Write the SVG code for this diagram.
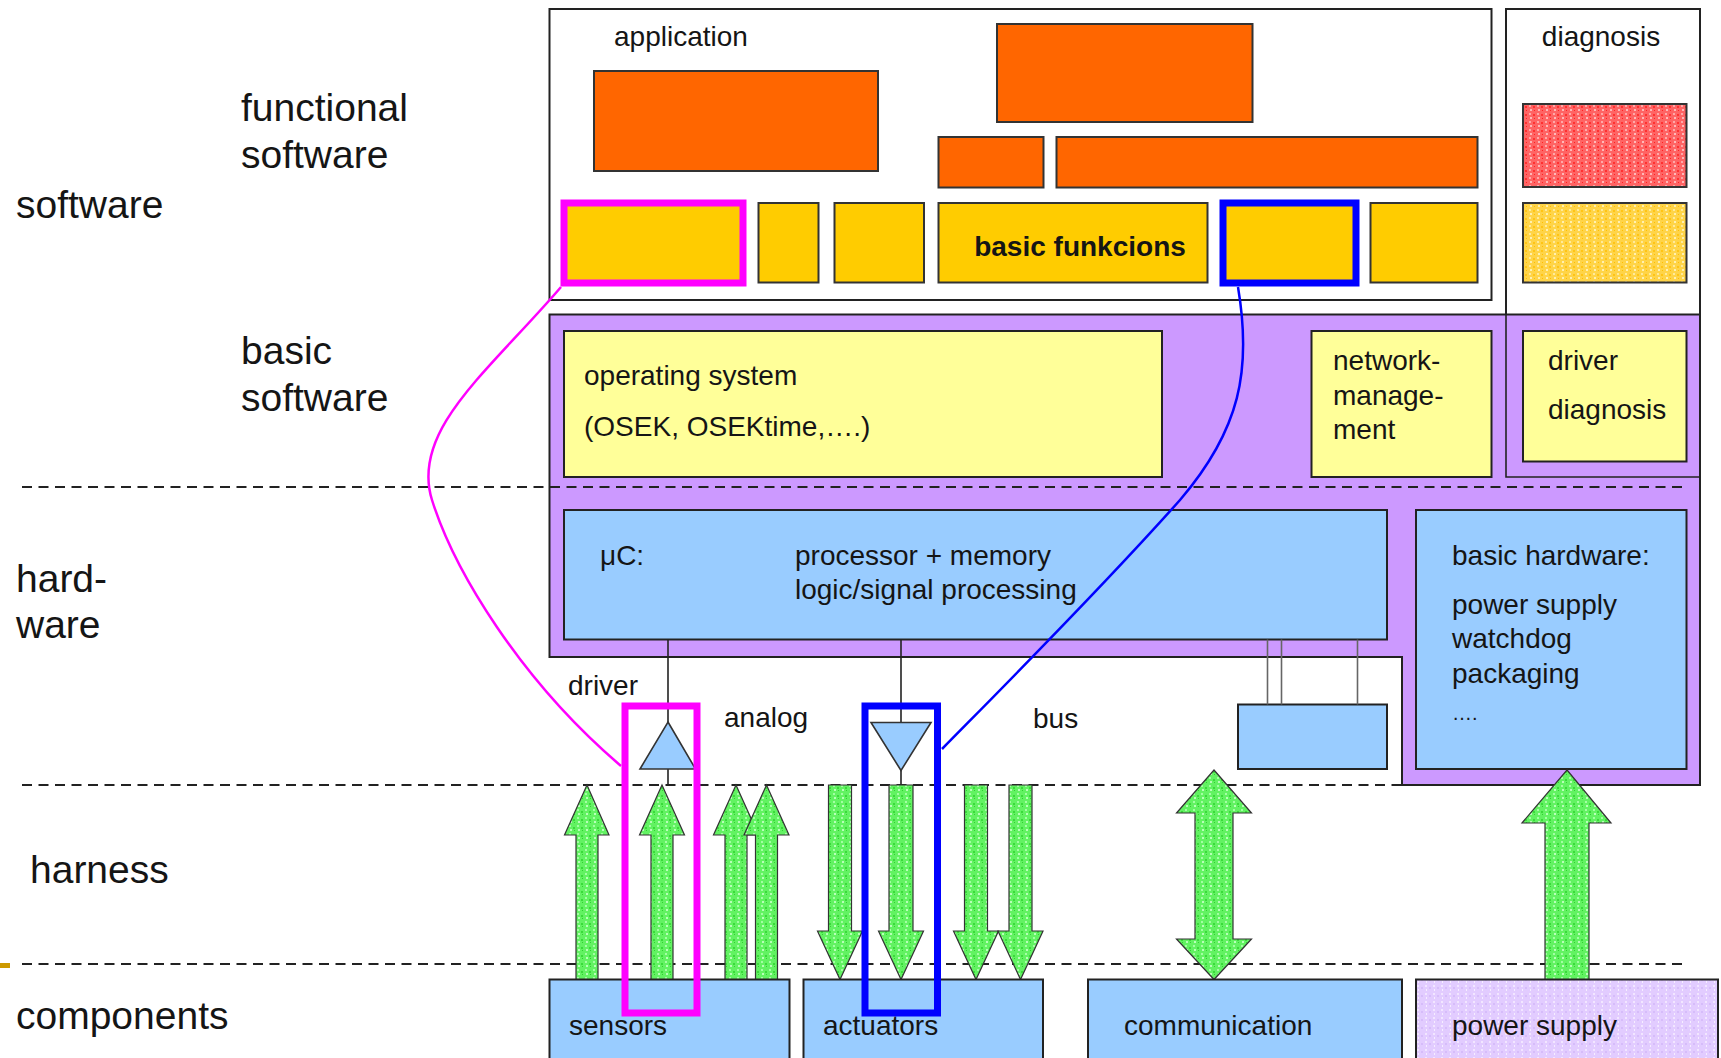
<svg xmlns="http://www.w3.org/2000/svg" width="1721" height="1058" viewBox="0 0 1721 1058">
<style>
text{font-family:"Liberation Sans",Arial,sans-serif;fill:#151515}
.big{font-size:39px}
.sm{font-size:28px}
.bx{stroke:#222;stroke-width:2}
.or{fill:#FF6600;stroke:#333;stroke-width:2}
.ye{fill:#FFCC00;stroke:#333;stroke-width:2}
.ly{fill:#FFFF99;stroke:#222;stroke-width:2}
.bl{fill:#99CCFF;stroke:#222;stroke-width:2}
.dash{stroke:#222;stroke-width:2;stroke-dasharray:10 6.5;fill:none}
.arr{fill:url(#pg);stroke:#333;stroke-width:1.2}
.hm{fill:none;stroke:#FF00FF;stroke-width:7}
.hb{fill:none;stroke:#0000FF;stroke-width:7}
.ln{stroke:#222;stroke-width:1.6;fill:none}
.gl{stroke:#666;stroke-width:1.6;fill:none}
</style>
<defs>
<pattern id="pg" width="8" height="8" patternUnits="userSpaceOnUse">
<rect width="8" height="8" fill="#62F262"/>
<rect x="1" y="1" width="2" height="2" fill="#A2FFA2"/>
<rect x="5" y="3" width="2" height="2" fill="#3ADA3A"/>
<rect x="2" y="5" width="2" height="2" fill="#B8FFB8"/>
<rect x="6" y="6" width="1" height="1" fill="#30D030"/>
</pattern>
<pattern id="pr" width="8" height="8" patternUnits="userSpaceOnUse">
<rect width="8" height="8" fill="#FF6464"/>
<rect x="1" y="1" width="2" height="2" fill="#FFA8A8"/>
<rect x="5" y="2" width="2" height="2" fill="#FF3030"/>
<rect x="2" y="5" width="2" height="2" fill="#FFB8B8"/>
<rect x="6" y="6" width="1" height="1" fill="#FF2020"/>
</pattern>
<pattern id="py" width="8" height="8" patternUnits="userSpaceOnUse">
<rect width="8" height="8" fill="#FFD448"/>
<rect x="1" y="1" width="2" height="2" fill="#FFEA9A"/>
<rect x="5" y="2" width="2" height="2" fill="#FFC414"/>
<rect x="2" y="5" width="2" height="2" fill="#FFF0B0"/>
<rect x="6" y="6" width="1" height="1" fill="#FFBE00"/>
</pattern>
<pattern id="pp" width="8" height="8" patternUnits="userSpaceOnUse">
<rect width="8" height="8" fill="#E2CCFF"/>
<rect x="1" y="1" width="2" height="2" fill="#F2E6FF"/>
<rect x="5" y="3" width="2" height="2" fill="#D6BCFA"/>
<rect x="2" y="5" width="1" height="2" fill="#F6EEFF"/>
</pattern>
</defs>
<rect width="1721" height="1058" fill="#FFFFFF"/>

<g id="layer-labels">
<text class="big" x="16" y="218">software</text>
<text class="big" x="241" y="121">functional</text>
<text class="big" x="241" y="168">software</text>
<text class="big" x="241" y="364">basic</text>
<text class="big" x="241" y="411">software</text>
<text class="big" x="16" y="592">hard-</text>
<text class="big" x="16" y="638">ware</text>
<text class="big" x="30" y="883">harness</text>
<text class="big" x="16" y="1029">components</text>
<rect x="0" y="963" width="10" height="5" fill="#CC9900"/>
</g>

<g id="application">
<rect class="bx" x="549.5" y="9" width="942" height="291" fill="#FFFFFF"/>
<text class="sm" x="614" y="46">application</text>
<rect class="or" x="594" y="71" width="284" height="100"/>
<rect class="or" x="997" y="24" width="255.5" height="98"/>
<rect class="or" x="938.5" y="137" width="105" height="50.5"/>
<rect class="or" x="1056.5" y="137" width="421" height="50.5"/>
<rect class="ye" x="564" y="203" width="179" height="80"/>
<rect class="ye" x="758.5" y="203" width="60" height="79.5"/>
<rect class="ye" x="834.5" y="203" width="89.5" height="79.5"/>
<rect class="ye" x="938.5" y="203" width="269" height="79.5"/>
<text x="1080" y="256" font-size="28" font-weight="bold" text-anchor="middle">basic funkcions</text>
<rect class="ye" x="1223" y="203" width="133" height="80"/>
<rect class="ye" x="1370.5" y="203" width="107" height="79.5"/>
</g>

<g id="diagnosis">
<rect class="bx" x="1506" y="9" width="194" height="468" fill="#FFFFFF"/>
<text class="sm" x="1601" y="46" text-anchor="middle">diagnosis</text>
<rect x="1523" y="104" width="163.5" height="83" fill="url(#pr)" stroke="#333" stroke-width="2"/>
<rect x="1523" y="203" width="163.5" height="79.5" fill="url(#py)" stroke="#333" stroke-width="2"/>
</g>

<g id="hw-sw-platform">
<path d="M549.5,314.5 H1700 V785 H1402 V657 H549.5 Z" fill="#CC99FF" stroke="#222" stroke-width="2"/>
<path class="ln" d="M1506,314.5 V477 H1700" stroke-width="2"/>
</g>

<g id="operating-system">
<rect class="ly" x="564" y="331" width="598" height="146"/>
<text class="sm" x="584" y="385">operating system</text>
<text class="sm" x="584" y="436">(OSEK, OSEKtime,….)</text>
</g>

<g id="network-management">
<rect class="ly" x="1311.5" y="331" width="180" height="146"/>
<text class="sm" x="1333" y="370">network-</text>
<text class="sm" x="1333" y="405">manage-</text>
<text class="sm" x="1333" y="439">ment</text>
</g>

<g id="driver-diagnosis">
<rect class="ly" x="1523" y="331" width="163.5" height="130.5"/>
<text class="sm" x="1548" y="370">driver</text>
<text class="sm" x="1548" y="419">diagnosis</text>
</g>

<g id="separators">
<line class="dash" x1="22" y1="487" x2="1684" y2="487"/>
<line class="dash" x1="22" y1="785" x2="1402" y2="785"/>
<line class="dash" x1="22" y1="964" x2="1684" y2="964"/>
</g>

<g id="microcontroller">
<rect class="bl" x="564" y="510" width="823" height="129.5"/>
<text class="sm" x="600" y="565">μC:</text>
<text class="sm" x="795" y="565">processor + memory</text>
<text class="sm" x="795" y="599">logic/signal processing</text>
</g>

<g id="basic-hardware">
<rect class="bl" x="1416" y="510" width="270.5" height="259"/>
<text class="sm" x="1452" y="565">basic hardware:</text>
<text class="sm" x="1452" y="614">power supply</text>
<text class="sm" x="1452" y="648">watchdog</text>
<text class="sm" x="1452" y="683">packaging</text>
<text x="1452" y="720" font-size="20">….</text>
</g>

<g id="bus-interface">
<rect class="bl" x="1238" y="704.5" width="149" height="64.5"/>
</g>

<g id="connectors">
<line class="gl" x1="1267.5" y1="639.5" x2="1267.5" y2="704.5"/>
<line class="gl" x1="1281.5" y1="639.5" x2="1281.5" y2="704.5"/>
<line class="gl" x1="1357.5" y1="639.5" x2="1357.5" y2="704.5"/>
<line class="ln" x1="668" y1="639.5" x2="668" y2="785"/>
<line class="ln" x1="901" y1="639.5" x2="901" y2="785"/>
<polygon points="668,722 695.5,769 640,769" fill="#99CCFF" stroke="#333" stroke-width="1.6"/>
<polygon points="871,722.5 931,722.5 901,770.5" fill="#99CCFF" stroke="#333" stroke-width="1.6"/>
<polygon class="arr" points="587,785 609,835 598,835 598,979.5 576,979.5 576,835 564.5,835"/>
<polygon class="arr" points="662,785 684.5,835 673,835 673,979.5 651,979.5 651,835 639.5,835"/>
<polygon class="arr" points="736,785 758.5,835 747,835 747,979.5 725,979.5 725,835 713.5,835"/>
<polygon class="arr" points="766.5,785 789,835 777.5,835 777.5,979.5 755.5,979.5 755.5,835 744,835"/>
<polygon class="arr" points="828.5,785 851.5,785 851.5,931 862.5,931 840,979.5 817.5,931 828.5,931"/>
<polygon class="arr" points="889,785 913,785 913,931 923.5,931 901,979.5 878.5,931 889,931"/>
<polygon class="arr" points="964.5,785 987.5,785 987.5,931 998.5,931 976,979.5 953.5,931 964.5,931"/>
<polygon class="arr" points="1009,785 1032,785 1032,931 1043,931 1020.5,979.5 998,931 1009,931"/>
<polygon class="arr" points="1214,770 1251.5,813 1233,813 1233,939 1251.5,939 1214,979.5 1176.5,939 1195,939 1195,813 1176.5,813"/>
<polygon class="arr" points="1567,770 1611,823 1589,823 1589,979.5 1545,979.5 1545,823 1522,823"/>
<path d="M561,287 C490,370 410,430 432,500 C454,570 520,680 621,766" fill="none" stroke="#FF00FF" stroke-width="2.5"/>
<path d="M1238,287 C1252,370 1240,430 1180,500 C1100,590 1000,690 942,749" fill="none" stroke="#0000FF" stroke-width="2.5"/>
<text class="sm" x="568" y="695">driver</text>
<text class="sm" x="724" y="727">analog</text>
<text class="sm" x="1033" y="728">bus</text>
</g>

<g id="sensors">
<rect class="bl" x="549.5" y="979.5" width="240" height="90"/>
<text class="sm" x="569" y="1035">sensors</text>
</g>
<g id="actuators">
<rect class="bl" x="803.5" y="979.5" width="239.5" height="90"/>
<text class="sm" x="823" y="1035">actuators</text>
</g>
<g id="communication">
<rect class="bl" x="1088" y="979.5" width="314" height="90"/>
<text class="sm" x="1124" y="1035">communication</text>
</g>
<g id="power-supply">
<rect x="1416" y="979.5" width="302" height="90" fill="url(#pp)" stroke="#222" stroke-width="2"/>
<text class="sm" x="1452" y="1035">power supply</text>
</g>

<g id="highlights">
<rect class="hm" x="564" y="203" width="179" height="80"/>
<rect class="hb" x="1223" y="203" width="133" height="80"/>
<rect class="hm" x="625" y="706" width="72" height="307"/>
<rect class="hb" x="865" y="706" width="72.5" height="307"/>
</g>
</svg>
